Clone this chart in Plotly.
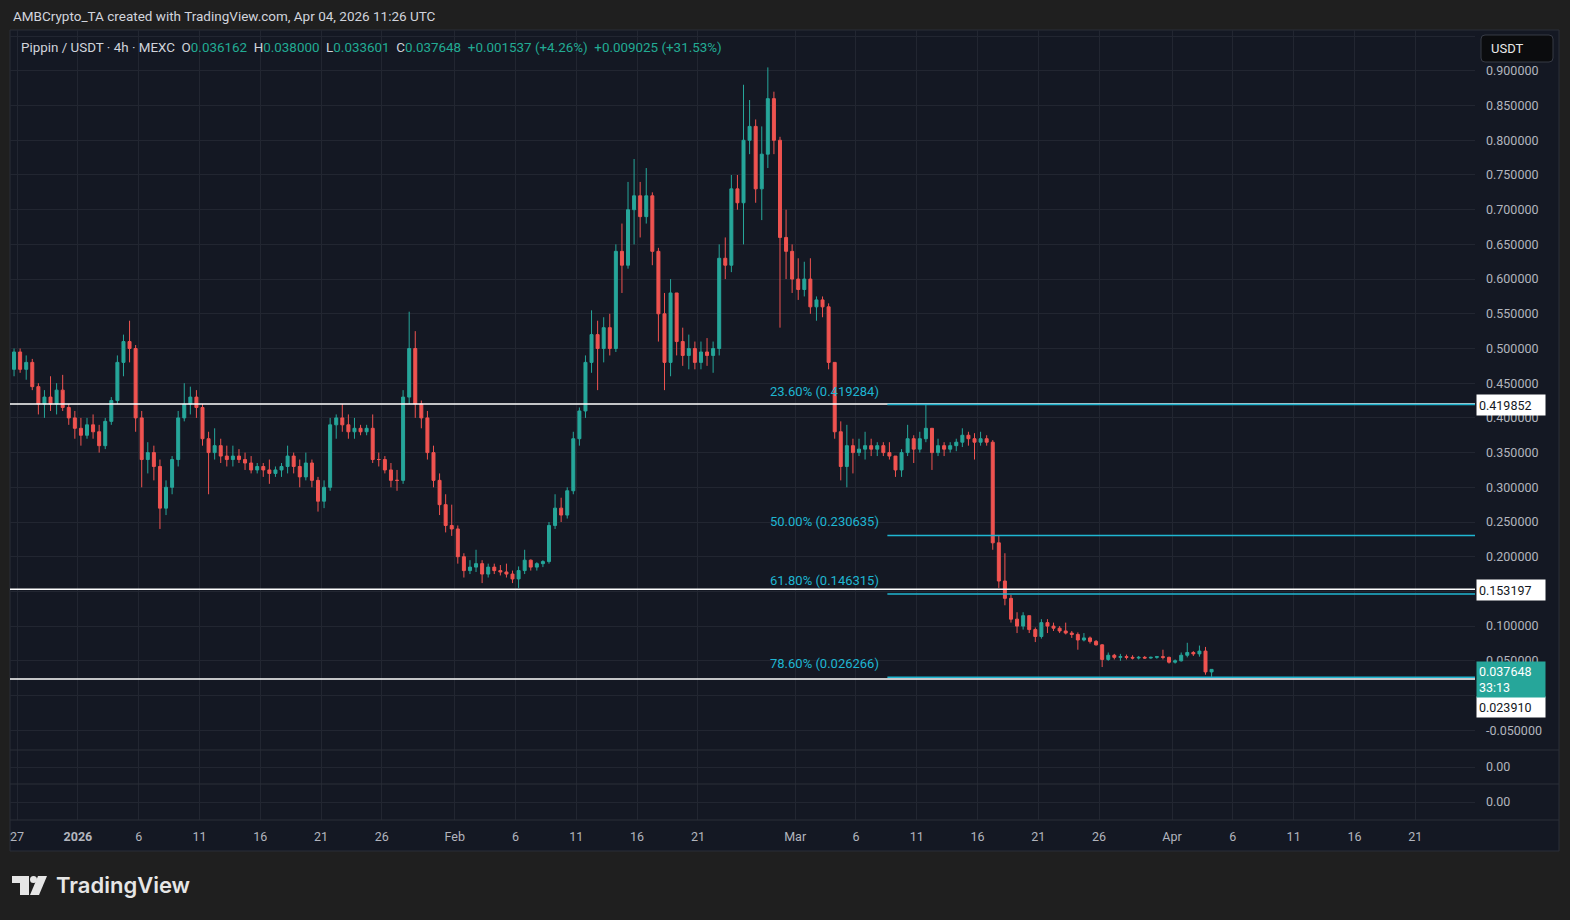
import pandas as pd
import plotly.graph_objects as go
from plotly.subplots import make_subplots

# ---------------- data (12h candles) ----------------
first_candle = "2025-12-26 12:00"

opens = [
    .47, .495, .47, .48, .445, .42, .43, .42, .44, .415,
    .40, .385, .375, .39, .38, .36, .395, .425, .48, .51,
    .50, .40, .34, .35, .33, .27, .30, .34, .40, .42,
    .43, .415, .37, .35, .36, .345, .34, .345, .34, .335,
    .325, .33, .325, .32, .325, .33, .345, .33, .315, .335,
    .31, .28, .30, .39, .40, .39, .38, .385, .38, .385,
    .34, .34, .325, .31, .31, .43, .50, .42, .40, .35,
    .31, .275, .245, .24, .20, .18, .185, .19, .175, .185,
    .18, .178, .175, .168, .18, .195, .185, .19, .193, .245,
    .27, .26, .295, .37, .41, .48, .52, .50, .53, .50,
    .64, .62, .70, .72, .69, .72, .64, .55, .48, .58,
    .51, .49, .50, .48, .495, .49, .50, .63, .62, .73,
    .71, .80, .82, .73, .78, .86, .80, .66, .64, .60,
    .585, .60, .56, .57, .56, .48, .38, .33, .36, .35,
    .355, .36, .355, .36, .35, .345, .325, .35, .37, .355,
    .37, .385, .35, .36, .355, .36, .365, .375, .37, .365,
    .37, .365, .22, .165, .14, .11, .10, .115, .095, .085,
    .105, .10, .097, .093, .09, .088, .08, .083, .078, .073,
    .052, .058, .055, .056, .055, .054, .055, .054, .055, .056,
    .055, .048, .05, .058, .062, .06, .064, .034,
]
highs = [
    .50, .50, .49, .485, .45, .44, .46, .45, .462, .42,
    .41, .40, .40, .405, .39, .40, .43, .49, .52, .54,
    .505, .41, .365, .36, .34, .31, .345, .41, .45, .445,
    .44, .42, .38, .385, .37, .36, .36, .355, .35, .345,
    .335, .335, .34, .33, .335, .36, .35, .34, .35, .34,
    .315, .31, .40, .405, .42, .405, .40, .39, .39, .405,
    .35, .345, .335, .325, .44, .553, .525, .425, .41, .36,
    .32, .29, .275, .245, .205, .195, .21, .195, .19, .19,
    .188, .19, .18, .186, .21, .196, .192, .195, .25, .29,
    .285, .30, .38, .415, .49, .555, .54, .545, .55, .65,
    .68, .74, .773, .74, .76, .725, .645, .58, .60, .58,
    .53, .52, .51, .51, .515, .51, .65, .66, .75, .75,
    .88, .858, .83, .82, .905, .87, .805, .70, .65, .63,
    .625, .63, .575, .575, .565, .48, .395, .39, .37, .37,
    .38, .37, .365, .365, .365, .345, .355, .39, .375, .38,
    .419, .385, .37, .365, .365, .37, .385, .38, .378, .38,
    .375, .368, .23, .205, .145, .12, .12, .115, .098, .11,
    .11, .105, .10, .105, .093, .091, .09, .085, .08, .074,
    .062, .06, .06, .059, .058, .057, .057, .056, .057, .066,
    .056, .052, .062, .076, .064, .072, .07, .038,
]
lows = [
    .46, .465, .455, .44, .405, .40, .41, .405, .41, .39,
    .37, .36, .37, .37, .35, .355, .39, .42, .46, .48,
    .38, .30, .32, .31, .24, .26, .29, .33, .395, .405,
    .40, .36, .29, .34, .335, .33, .33, .335, .325, .32,
    .32, .315, .305, .315, .315, .32, .32, .30, .31, .30,
    .265, .27, .295, .37, .38, .37, .37, .375, .375, .335,
    .33, .32, .30, .295, .305, .42, .40, .385, .34, .30,
    .26, .235, .23, .19, .17, .175, .178, .162, .17, .175,
    .173, .17, .162, .155, .175, .18, .18, .185, .19, .24,
    .25, .255, .29, .36, .40, .465, .44, .48, .49, .495,
    .58, .615, .65, .66, .68, .62, .51, .44, .46, .49,
    .475, .47, .47, .47, .475, .465, .49, .60, .61, .70,
    .65, .78, .71, .685, .76, .78, .53, .60, .58, .57,
    .575, .55, .54, .545, .47, .37, .31, .30, .32, .345,
    .34, .345, .345, .345, .34, .315, .315, .345, .335, .35,
    .365, .325, .345, .345, .35, .352, .358, .36, .34, .36,
    .36, .21, .155, .13, .105, .09, .095, .09, .077, .082,
    .09, .093, .09, .088, .083, .066, .078, .075, .072, .041,
    .05, .052, .05, .052, .052, .052, .053, .053, .053, .052,
    .046, .046, .049, .055, .057, .056, .03, .027,
]
closes = [
    .495, .47, .48, .445, .42, .43, .42, .44, .415, .40,
    .385, .375, .39, .38, .36, .395, .425, .48, .51, .50,
    .40, .34, .35, .33, .27, .30, .34, .40, .42, .43,
    .415, .37, .35, .36, .345, .34, .345, .34, .335, .325,
    .33, .325, .32, .325, .33, .345, .33, .315, .335, .31,
    .28, .30, .39, .40, .39, .38, .385, .38, .385, .34,
    .34, .325, .31, .31, .43, .50, .42, .40, .35, .31,
    .275, .245, .24, .20, .18, .185, .19, .175, .185, .18,
    .178, .175, .168, .18, .195, .185, .19, .193, .245, .27,
    .26, .295, .37, .41, .48, .52, .50, .53, .50, .64,
    .62, .70, .72, .69, .72, .64, .55, .48, .58, .51,
    .49, .50, .48, .495, .49, .50, .63, .62, .73, .71,
    .80, .82, .73, .78, .86, .80, .66, .64, .60, .585,
    .60, .56, .57, .56, .48, .38, .33, .36, .35, .355,
    .36, .355, .36, .35, .345, .325, .35, .37, .355, .37,
    .385, .35, .36, .355, .36, .365, .375, .37, .365, .37,
    .365, .22, .165, .14, .11, .10, .115, .095, .085, .105,
    .10, .097, .093, .09, .088, .08, .083, .078, .073, .052,
    .058, .055, .056, .055, .054, .055, .054, .055, .056, .055,
    .048, .05, .058, .062, .06, .064, .034, .037648,
]

tick_dates = ["2025-12-27", "2026-01-01", "2026-01-06", "2026-01-11", "2026-01-16",
              "2026-01-21", "2026-01-26", "2026-02-01", "2026-02-06", "2026-02-11",
              "2026-02-16", "2026-02-21", "2026-03-01", "2026-03-06", "2026-03-11",
              "2026-03-16", "2026-03-21", "2026-03-26", "2026-04-01", "2026-04-06",
              "2026-04-11", "2026-04-16", "2026-04-21"]
tick_text = ["27", "<b>2026</b>", "6", "11", "16", "21", "26", "Feb", "6", "11",
             "16", "21", "Mar", "6", "11", "16", "21", "26", "Apr", "6",
             "11", "16", "21"]

# price scale: grid levels, and which labels are covered by the scale badges
price_ticks = [-0.05, 0.0, 0.05, 0.10, 0.15, 0.20, 0.25, 0.30, 0.35, 0.40, 0.45,
               0.50, 0.55, 0.60, 0.65, 0.70, 0.75, 0.80, 0.85, 0.90, 0.95]
hidden_ticks = [0.0, 0.15, 0.95]

level_lines = [0.419852, 0.153197, 0.023910]
fib_names = ["23.60%", "50.00%", "61.80%", "78.60%"]
fib_levels = [0.419284, 0.230635, 0.146315, 0.026266]
fib_start = "2026-03-08 14:00"
last_price = 0.037648
countdown = "33:13"

header = "AMBCrypto_TA created with TradingView.com, Apr 04, 2026 11:26 UTC"
symbol = "Pippin / USDT · 4h · MEXC"
ohlc_vals = [("O", "0.036162"), ("H", "0.038000"), ("L", "0.033601"), ("C", "0.037648")]
change_txt = "+0.001537 (+4.26%)  +0.009025 (+31.53%)"

# ---------------- style ----------------
W, H = 1570, 920
ML, MR, MT, MB = 10, 95, 30, 100
PW, PH = W - ML - MR, H - MT - MB
BG = "#141823"
OUTER = "#1f1f1f"
GRID = "#222631"
TXT = "#b2b5be"
UP, DOWN = "#26a69a", "#ef5350"
FIB = "#1fb6d2"
FONT = "Roboto"


def px(x):
    return (x - ML) / PW


def py(y):
    return (H - MB - y) / PH


dates = pd.date_range(first_candle, periods=len(closes), freq="12h")
centers = dates + pd.Timedelta(hours=6)

fig = make_subplots(rows=3, cols=1, shared_xaxes=True, vertical_spacing=0,
                    row_heights=[720, 34, 36])

fig.add_trace(go.Candlestick(
    x=centers, open=opens, high=highs, low=lows, close=closes,
    increasing=dict(line=dict(color=UP, width=1), fillcolor=UP),
    decreasing=dict(line=dict(color=DOWN, width=1), fillcolor=DOWN),
    whiskerwidth=0, showlegend=False, hoverinfo="skip"), row=1, col=1)

for r in (2, 3):
    fig.add_trace(go.Scatter(x=[centers[0], centers[-1]], y=[None, None], mode="lines",
                             showlegend=False, hoverinfo="skip"), row=r, col=1)

xrange_ = ["2025-12-26 10:00", "2026-04-25 22:00"]
fig.update_xaxes(range=xrange_, tickvals=tick_dates, ticktext=tick_text,
                 showgrid=True, gridcolor=GRID, gridwidth=1, zeroline=False,
                 showline=False, ticks="", rangeslider_visible=False,
                 tickfont=dict(color=TXT, size=12.5, family=FONT))
fig.update_xaxes(showticklabels=False, row=1, col=1)
fig.update_xaxes(showticklabels=False, row=2, col=1)
fig.update_xaxes(showticklabels=True, ticklabelstandoff=7, row=3, col=1)

price_text = ["" if any(abs(t - h) < 1e-9 for h in hidden_ticks) else f"{t:.6f}"
              for t in price_ticks]
fig.update_yaxes(range=[-0.0785, 0.9589], tickvals=price_ticks, ticktext=price_text,
                 side="right", showgrid=True, gridcolor=GRID, zeroline=False,
                 showline=False, ticks="", ticklabelstandoff=10,
                 tickfont=dict(color=TXT, size=12.5, family=FONT), row=1, col=1)
for r in (2, 3):
    fig.update_yaxes(range=[-1, 1], tickvals=[0], ticktext=["0.00"], side="right",
                     showgrid=True, gridcolor=GRID, zeroline=False, showline=False,
                     ticks="", ticklabelstandoff=10, fixedrange=True,
                     tickfont=dict(color=TXT, size=12.5, family=FONT), row=r, col=1)

shapes = []
# chart frame
shapes.append(dict(type="rect", xref="paper", yref="paper", x0=px(10), x1=px(1559),
                   y0=py(851), y1=py(30), fillcolor=BG, line=dict(color="#2a2e39", width=1),
                   layer="below"))
# pane separators
for yy in (750, 784, 820):
    shapes.append(dict(type="line", xref="paper", yref="paper", x0=px(10), x1=px(1559),
                       y0=py(yy), y1=py(yy), line=dict(color="#2a2e39", width=1)))
# horizontal levels (white)
for lv in level_lines:
    shapes.append(dict(type="line", xref="paper", yref="y", x0=0, x1=1, y0=lv, y1=lv,
                       line=dict(color="#ffffff", width=1.5)))
# fib levels
for lv in fib_levels:
    shapes.append(dict(type="line", xref="x", yref="y", x0=fib_start, x1="2026-05-15",
                       y0=lv, y1=lv, line=dict(color=FIB, width=1.5)))


# TradingView logo (bottom left)
def path(points):
    return "M " + " L ".join(f"{px(a)},{py(b)}" for a, b in points) + " Z"


LOGO = "#e6e6e6"
shapes.append(dict(type="path", xref="paper", yref="paper",
                   path=path([(12, 876), (29, 876), (29, 895), (20, 895), (20, 883), (12, 883)]),
                   fillcolor=LOGO, line=dict(width=0)))
shapes.append(dict(type="circle", xref="paper", yref="paper", x0=px(30), x1=px(37),
                   y0=py(883), y1=py(876), fillcolor=LOGO, line=dict(width=0)))
shapes.append(dict(type="path", xref="paper", yref="paper",
                   path=path([(38, 876), (47, 876), (39, 895), (30, 895)]),
                   fillcolor=LOGO, line=dict(width=0)))
# USDT button (rounded)
bx0, bx1, by0, by1, rr = 1481, 1553, 35, 62, 4
usdt_path = (f"M {px(bx0 + rr)},{py(by0)} L {px(bx1 - rr)},{py(by0)} "
             f"Q {px(bx1)},{py(by0)} {px(bx1)},{py(by0 + rr)} L {px(bx1)},{py(by1 - rr)} "
             f"Q {px(bx1)},{py(by1)} {px(bx1 - rr)},{py(by1)} L {px(bx0 + rr)},{py(by1)} "
             f"Q {px(bx0)},{py(by1)} {px(bx0)},{py(by1 - rr)} L {px(bx0)},{py(by0 + rr)} "
             f"Q {px(bx0)},{py(by0)} {px(bx0 + rr)},{py(by0)} Z")
shapes.append(dict(type="path", xref="paper", yref="paper", path=usdt_path,
                   fillcolor="#0b0c0e", line=dict(color="#363a45", width=1)))

annotations = []
annotations.append(dict(xref="paper", yref="paper", x=px(11), y=py(16), xanchor="left",
                        yanchor="middle", text=header, showarrow=False,
                        font=dict(color="#d1d4dc", size=13.5, family=FONT)))
leg = symbol + "  " + "  ".join(
    f"{k}<span style='color:#22ab94'>{v}</span>" for k, v in ohlc_vals)
leg += "  <span style='color:#22ab94'>" + change_txt.replace("  ", "&nbsp;&nbsp;") + "</span>"
annotations.append(dict(xref="paper", yref="paper", x=px(19), y=py(47), xanchor="left",
                        yanchor="middle", text=leg, showarrow=False,
                        font=dict(color="#d1d4dc", size=13.4, family=FONT)))
for name, lv in zip(fib_names, fib_levels):
    annotations.append(dict(xref="x", yref="y", x=fib_start, y=lv, xanchor="right",
                            yanchor="bottom", xshift=-6, yshift=4, showarrow=False,
                            text=f"{name} ({lv:.6f})",
                            font=dict(color=FIB, size=13, family=FONT)))
# price scale labels
for lv, ypix in ((0.419852, 405), (0.153197, 590), (0.023910, 706.5)):
    annotations.append(dict(xref="paper", yref="paper", x=px(1476), y=py(ypix),
                            xanchor="left", yanchor="middle", text=f"{lv:.6f}",
                            showarrow=False, bgcolor="#ffffff", width=64, height=16,
                            align="left", borderpad=2,
                            font=dict(color="#131722", size=12.5, family=FONT)))
annotations.append(dict(xref="paper", yref="paper", x=px(1476), y=py(679.5),
                        xanchor="left", yanchor="middle",
                        text=f"{last_price:.6f}<br>{countdown}", showarrow=False,
                        bgcolor=UP, width=64, height=31, align="left", borderpad=2,
                        font=dict(color="#ffffff", size=12.5, family=FONT)))
annotations.append(dict(xref="paper", yref="paper", x=px(1489), y=py(48.5),
                        xanchor="left", yanchor="middle", text="USDT", showarrow=False,
                        font=dict(color="#e8e8e8", size=13, family=FONT)))
annotations.append(dict(xref="paper", yref="paper", x=px(54), y=py(885), xanchor="left",
                        yanchor="middle", text="TradingView", showarrow=False,
                        font=dict(color=LOGO, size=22, family="Inter", weight=600)))

fig.update_layout(width=W, height=H, margin=dict(l=ML, r=MR, t=MT, b=MB),
                  paper_bgcolor=OUTER, plot_bgcolor=BG, shapes=shapes,
                  annotations=annotations, showlegend=False,
                  font=dict(family=FONT, color=TXT), hovermode=False)

fig.write_html("out.html", config={"displayModeBar": False},
               post_script="document.body.style.margin='0';document.body.style.overflow='hidden';")
